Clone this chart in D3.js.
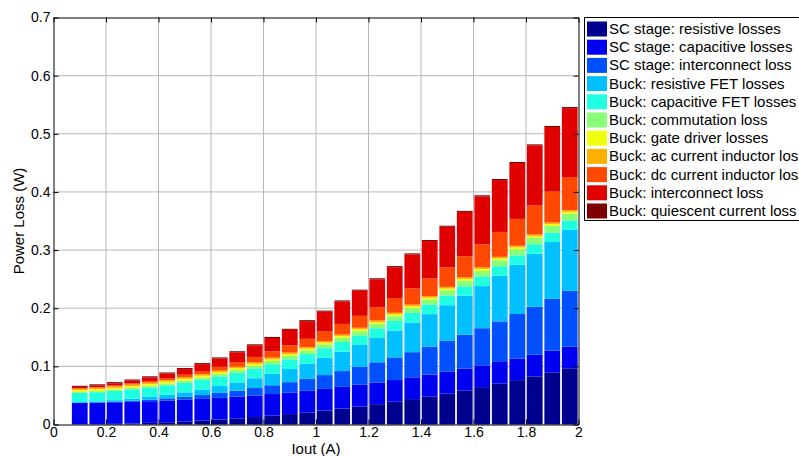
<!DOCTYPE html>
<meta charset="utf-8">
<script src="https://d3js.org/d3.v7.min.js"></script>
<style>
  body { margin: 0; background: #fff; overflow: hidden; }
  text { font-family: Arial, "Liberation Sans", sans-serif; }
</style>
<div id="my_dataviz"></div>
<script>

// output current for each bar (A)
var iout = [0.1, 0.1667, 0.2333, 0.3, 0.3667, 0.4333, 0.5, 0.5667, 0.6333, 0.7,
  0.7667, 0.8333, 0.9, 0.9667, 1.0333, 1.1, 1.1667, 1.2333, 1.3, 1.3667,
  1.4333, 1.5, 1.5667, 1.6333, 1.7, 1.7667, 1.8333, 1.9, 1.9667];

// loss components (W), bottom to top of each stack
var scResistive = [0.0002, 0.0006, 0.0011, 0.0019, 0.0028, 0.0039, 0.0053, 0.0068, 0.0086, 0.0106,
  0.0128, 0.0152, 0.0179, 0.0208, 0.0240, 0.0274, 0.0311, 0.0350, 0.0392, 0.0437,
  0.0484, 0.0534, 0.0587, 0.0643, 0.0702, 0.0763, 0.0828, 0.0896, 0.0967];
var scCapacitive = [0.0370, 0.0371, 0.0372, 0.0372, 0.0373, 0.0373, 0.0372, 0.0372, 0.0372, 0.0372,
  0.0372, 0.0372, 0.0372, 0.0372, 0.0372, 0.0373, 0.0373, 0.0373, 0.0373, 0.0374,
  0.0374, 0.0374, 0.0373, 0.0374, 0.0373, 0.0372, 0.0372, 0.0374, 0.0373];
var scInterconnect = [0.0002, 0.0005, 0.0011, 0.0018, 0.0027, 0.0038, 0.0052, 0.0067, 0.0085, 0.0105,
  0.0127, 0.0151, 0.0177, 0.0206, 0.0238, 0.0272, 0.0308, 0.0347, 0.0389, 0.0433,
  0.0479, 0.0531, 0.0585, 0.0639, 0.0698, 0.0765, 0.0826, 0.0891, 0.0959];
var buckResFet = [0.0013, 0.0017, 0.0025, 0.0034, 0.0046, 0.0060, 0.0077, 0.0096, 0.0118, 0.0141,
  0.0168, 0.0196, 0.0227, 0.0260, 0.0296, 0.0334, 0.0375, 0.0418, 0.0463, 0.0511,
  0.0561, 0.0613, 0.0668, 0.0725, 0.0785, 0.0846, 0.0911, 0.0977, 0.1047];
var buckCapFet = [0.0155, 0.0157, 0.0158, 0.0160, 0.0161, 0.0163, 0.0163, 0.0164, 0.0164, 0.0164,
  0.0165, 0.0165, 0.0165, 0.0165, 0.0165, 0.0165, 0.0165, 0.0165, 0.0165, 0.0164,
  0.0164, 0.0164, 0.0164, 0.0164, 0.0164, 0.0163, 0.0163, 0.0163, 0.0163];
var buckCommutation = [0.0016, 0.0019, 0.0023, 0.0027, 0.0030, 0.0034, 0.0038, 0.0041, 0.0045, 0.0049,
  0.0052, 0.0056, 0.0060, 0.0063, 0.0067, 0.0071, 0.0074, 0.0078, 0.0082, 0.0085,
  0.0089, 0.0093, 0.0096, 0.0100, 0.0104, 0.0107, 0.0111, 0.0115, 0.0118];
var buckGateDriver = [0.0030, 0.0030, 0.0030, 0.0030, 0.0030, 0.0030, 0.0030, 0.0030, 0.0030, 0.0030,
  0.0030, 0.0030, 0.0030, 0.0030, 0.0030, 0.0030, 0.0030, 0.0030, 0.0030, 0.0030,
  0.0030, 0.0030, 0.0030, 0.0030, 0.0030, 0.0030, 0.0030, 0.0030, 0.0030];
var buckAcInductor = [0.0028, 0.0028, 0.0028, 0.0028, 0.0028, 0.0028, 0.0028, 0.0028, 0.0028, 0.0028,
  0.0028, 0.0028, 0.0028, 0.0028, 0.0028, 0.0028, 0.0028, 0.0028, 0.0028, 0.0028,
  0.0028, 0.0028, 0.0028, 0.0028, 0.0028, 0.0028, 0.0028, 0.0028, 0.0028];
var buckDcInductor = [0.0007, 0.0010, 0.0014, 0.0019, 0.0026, 0.0033, 0.0043, 0.0053, 0.0065, 0.0078,
  0.0092, 0.0107, 0.0124, 0.0142, 0.0162, 0.0183, 0.0205, 0.0228, 0.0253, 0.0279,
  0.0306, 0.0335, 0.0364, 0.0396, 0.0428, 0.0462, 0.0497, 0.0533, 0.0571];
var buckInterconnect = [0.0025, 0.0030, 0.0038, 0.0049, 0.0062, 0.0079, 0.0097, 0.0119, 0.0143, 0.0169,
  0.0199, 0.0231, 0.0266, 0.0303, 0.0343, 0.0386, 0.0432, 0.0480, 0.0531, 0.0584,
  0.0640, 0.0699, 0.0761, 0.0825, 0.0892, 0.0961, 0.1034, 0.1109, 0.1186];
var buckQuiescent = [0.0018, 0.0018, 0.0018, 0.0018, 0.0018, 0.0018, 0.0018, 0.0018, 0.0018, 0.0018,
  0.0018, 0.0018, 0.0018, 0.0018, 0.0018, 0.0018, 0.0018, 0.0018, 0.0018, 0.0018,
  0.0018, 0.0018, 0.0018, 0.0018, 0.0018, 0.0018, 0.0018, 0.0018, 0.0018];

var seriesNames = ["SC stage: resistive losses", "SC stage: capacitive losses", "SC stage: interconnect loss",
  "Buck: resistive FET losses", "Buck: capacitive FET losses", "Buck: commutation loss",
  "Buck: gate driver losses", "Buck: ac current inductor loss", "Buck: dc current inductor loss",
  "Buck: interconnect loss", "Buck: quiescent current loss"];
var seriesValues = [scResistive, scCapacitive, scInterconnect, buckResFet, buckCapFet, buckCommutation,
  buckGateDriver, buckAcInductor, buckDcInductor, buckInterconnect, buckQuiescent];

var xTicks = [0, 0.2, 0.4, 0.6, 0.8, 1, 1.2, 1.4, 1.6, 1.8, 2];
var yTicks = [0, 0.1, 0.2, 0.3, 0.4, 0.5, 0.6, 0.7];

// jet-like colours, one per component
var colors = ["#00008F", "#0000F0", "#0050FF", "#00C0FF", "#20FFE0", "#8AFF78",
  "#EEFF10", "#FFB000", "#FF4800", "#E00000", "#800000"];

// build table rows for d3.stack
var rows = iout.map(function(v, i) {
  var r = { iout: v };
  seriesNames.forEach(function(n, k) { r[n] = seriesValues[k][i]; });
  return r;
});

var W = 799, H = 456;
var svg = d3.select("#my_dataviz")
  .append("svg")
    .attr("width", W)
    .attr("height", H);

var x = d3.scaleLinear().domain([0, 2]).range([53.5, 578.5]);
var y = d3.scaleLinear().domain([0, 0.7]).range([424.5, 17.5]);

// grid
svg.append("g").selectAll("line")
  .data(xTicks.slice(1, -1))
  .enter().append("line")
    .attr("x1", function(d) { return x(d); })
    .attr("x2", function(d) { return x(d); })
    .attr("y1", y(0)).attr("y2", y(0.7))
    .attr("stroke", "#b8b8b8").attr("stroke-width", 1);
svg.append("g").selectAll("line")
  .data(yTicks.slice(1, -1))
  .enter().append("line")
    .attr("x1", x(0)).attr("x2", x(2))
    .attr("y1", function(d) { return y(d); })
    .attr("y2", function(d) { return y(d); })
    .attr("stroke", "#b8b8b8").attr("stroke-width", 1);

// stacked bars
var stacked = d3.stack().keys(seriesNames)(rows);
var bw = x(0.9 / 15) - x(0);

svg.append("g").selectAll("g")
  .data(stacked)
  .enter().append("g")
    .attr("fill", function(d, i) { return colors[i]; })
  .selectAll("rect")
  .data(function(d) { return d; })
  .enter().append("rect")
    .attr("x", function(d) { return x(d.data.iout) - bw / 2; })
    .attr("y", function(d) { return y(d[1]); })
    .attr("width", bw)
    .attr("height", function(d) { return y(d[0]) - y(d[1]); });

// axes (inward ticks, box)
var fmt = function(d) { return String(+d.toFixed(1)); };
svg.append("g")
  .attr("transform", "translate(0," + y(0) + ")")
  .call(d3.axisBottom(x).tickValues(xTicks).tickFormat(fmt).tickSizeInner(-5).tickSizeOuter(0).tickPadding(3));
svg.append("g")
  .attr("transform", "translate(" + x(0) + ",0)")
  .call(d3.axisLeft(y).tickValues(yTicks).tickFormat(fmt).tickSizeInner(-5).tickSizeOuter(0).tickPadding(3));
svg.append("g")
  .attr("transform", "translate(0," + y(0.7) + ")")
  .call(d3.axisTop(x).tickValues(xTicks).tickFormat("").tickSizeInner(-5).tickSizeOuter(0));
svg.append("g")
  .attr("transform", "translate(" + x(2) + ",0)")
  .call(d3.axisRight(y).tickValues(yTicks).tickFormat("").tickSizeInner(-5).tickSizeOuter(0));

svg.selectAll(".tick text")
  .attr("font-size", 14)
  .attr("font-family", "Arial, 'Liberation Sans', sans-serif")
  .attr("fill", "#000");
svg.selectAll(".domain").attr("stroke", "#000");

// axis labels
svg.append("text")
  .attr("x", 316).attr("y", 454)
  .attr("text-anchor", "middle")
  .attr("font-size", 15)
  .text("Iout (A)");
svg.append("text")
  .attr("transform", "translate(24,221) rotate(-90)")
  .attr("text-anchor", "middle")
  .attr("font-size", 15)
  .text("Power Loss (W)");

// legend
var lg = svg.append("g");
lg.append("rect")
  .attr("x", 584.5).attr("y", 17.5)
  .attr("width", 260).attr("height", 203)
  .attr("fill", "#fff").attr("stroke", "#000");
var item = lg.selectAll("g.item")
  .data(seriesNames)
  .enter().append("g")
    .attr("class", "item")
    .attr("transform", function(d, i) { return "translate(0," + (29 + i * 18.2) + ")"; });
item.append("rect")
  .attr("x", 587).attr("y", -7.5)
  .attr("width", 20).attr("height", 15)
  .attr("fill", function(d, i) { return colors[i]; });
item.append("text")
  .attr("x", 609).attr("y", 5)
  .attr("font-size", 15)
  .text(function(d) { return d; });

</script>
